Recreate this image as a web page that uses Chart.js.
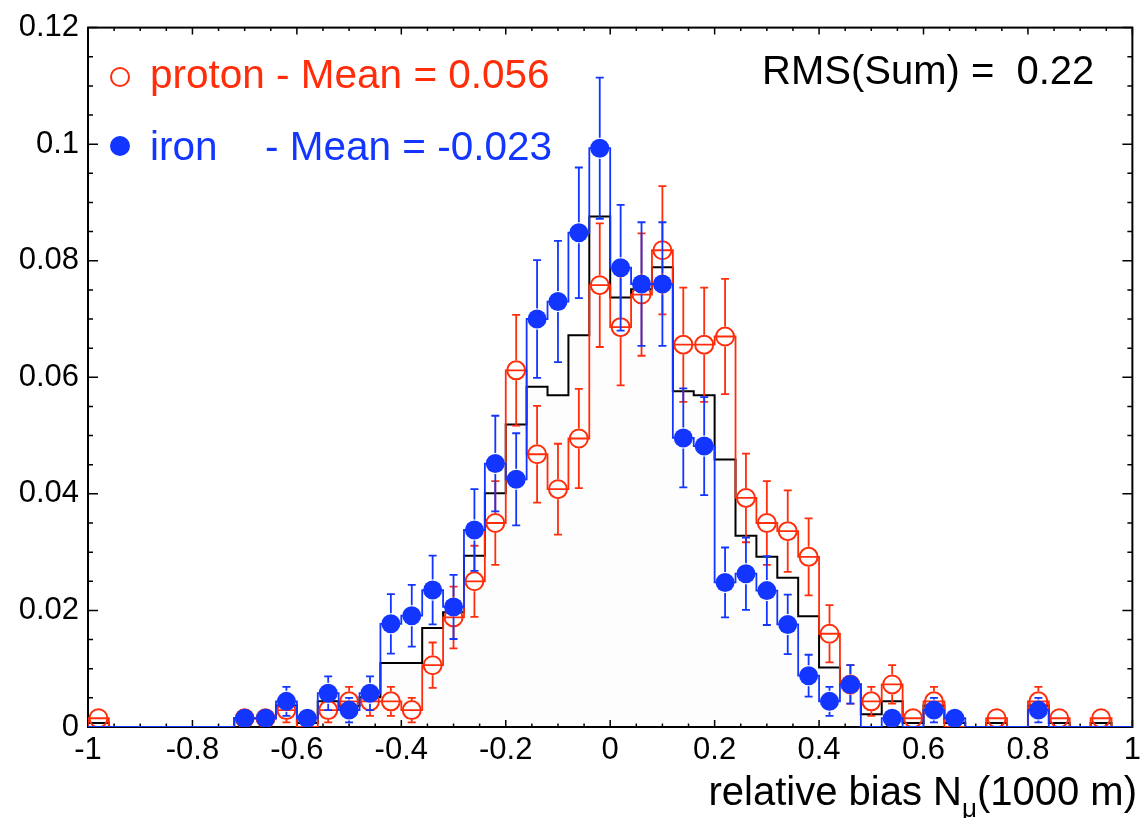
<!DOCTYPE html>
<html>
<head>
<meta charset="utf-8">
<title>relative bias N_mu</title>
<script src="https://cdn.jsdelivr.net/npm/chart.js@4.4.1/dist/chart.umd.min.js"></script>
<style>
  body { margin: 0; background: #fff; }
  #wrap { position: relative; width: 1146px; height: 818px; font-family: "Liberation Sans", Arial, Helvetica, sans-serif; }
  #plot { position: absolute; left: 0; top: 0; }
  .txt { position: absolute; white-space: pre; line-height: 1; font-size: 40px; }
  .leg { font-size: 40.5px; }
  .red { color: #ff2d0a; }
  .blue { color: #1236ff; }
  .mark { position: absolute; border-radius: 50%; box-sizing: border-box; }
</style>
</head>
<body>
<div id="wrap">
  <canvas id="plot" width="1146" height="818"></canvas>
  <span class="mark" style="left:110px; top:67px; width:20px; height:20px; border:2px solid #ff2d0a;"></span>
  <span class="txt leg red" style="left:150px; top:54px;">proton - Mean = 0.056</span>
  <span class="mark" style="left:110px; top:136px; width:20px; height:20px; background:#1236ff;"></span>
  <span class="txt leg blue" style="left:150px; top:126px;">iron</span>
  <span class="txt leg blue" style="left:265px; top:126px;">- Mean = -0.023</span>
  <span class="txt" style="left:762px; top:50px;">RMS(Sum) =  0.22</span>
  <span class="txt" style="right:9px; top:771px;">relative bias N<span style="font-size:26px; position:relative; top:12px;">&mu;</span>(1000 m)</span>
</div>
<script>
// bins of 0.04 from -1 to 1
const binCenters = [-0.98, -0.94, -0.90, -0.86, -0.82, -0.78, -0.74, -0.70, -0.66, -0.62,
                    -0.58, -0.54, -0.50, -0.46, -0.42, -0.38, -0.34, -0.30, -0.26, -0.22,
                    -0.18, -0.14, -0.10, -0.06, -0.02, 0.02, 0.06, 0.10, 0.14, 0.18,
                    0.22, 0.26, 0.30, 0.34, 0.38, 0.42, 0.46, 0.50, 0.54, 0.58,
                    0.62, 0.66, 0.70, 0.74, 0.78, 0.82, 0.86, 0.90, 0.94, 0.98];
const binWidth = 0.04;

const protonVals = [0.0015, 0, 0, 0, 0, 0, 0, 0.0015, 0.0015, 0.0029,
                    0, 0.0029, 0.0044, 0.0044, 0.0044, 0.0029, 0.0106, 0.0188, 0.0250, 0.0350,
                    0.0612, 0.0468, 0.0408, 0.0495, 0.0758, 0.0686, 0.0742, 0.0818, 0.0656, 0.0656,
                    0.0670, 0.0393, 0.0350, 0.0336, 0.0292, 0.0160, 0.0073, 0.0044, 0.0073, 0.0015,
                    0.0044, 0, 0, 0.0015, 0, 0.0044, 0.0015, 0, 0.0015, 0];
const protonErr = [0.0015, 0, 0, 0, 0, 0, 0, 0.0015, 0.0015, 0.0021,
                   0, 0.0021, 0.0025, 0.0025, 0.0025, 0.0021, 0.0039, 0.0053, 0.0061, 0.0072,
                   0.0095, 0.0083, 0.0078, 0.0085, 0.0106, 0.0100, 0.0105, 0.0110, 0.0098, 0.0098,
                   0.0099, 0.0076, 0.0072, 0.0070, 0.0066, 0.0049, 0.0033, 0.0025, 0.0033, 0.0015,
                   0.0025, 0, 0, 0.0015, 0, 0.0025, 0.0015, 0, 0.0015, 0];

const ironVals = [0, 0, 0, 0, 0, 0, 0, 0.0015, 0.0015, 0.0044,
                  0.0015, 0.0058, 0.0029, 0.0058, 0.0177, 0.0191, 0.0235, 0.0206, 0.0338, 0.0452,
                  0.0425, 0.0700, 0.0730, 0.0848, 0.0993, 0.0788, 0.0760, 0.0760, 0.0496, 0.0482,
                  0.0248, 0.0263, 0.0234, 0.0176, 0.0088, 0.0044, 0.0073, 0, 0.0015, 0,
                  0.0029, 0.0015, 0, 0, 0, 0.0029, 0, 0, 0, 0];
const ironErr = [0, 0, 0, 0, 0, 0, 0, 0.0015, 0.0015, 0.0025,
                 0.0015, 0.0029, 0.0021, 0.0029, 0.0051, 0.0053, 0.0059, 0.0055, 0.0070, 0.0082,
                 0.0079, 0.0101, 0.0104, 0.0112, 0.0121, 0.0108, 0.0106, 0.0106, 0.0085, 0.0084,
                 0.0060, 0.0062, 0.0059, 0.0051, 0.0036, 0.0025, 0.0033, 0, 0.0015, 0,
                 0.0021, 0.0015, 0, 0, 0, 0.0021, 0, 0, 0, 0];

const sumVals = [0.0007, 0, 0, 0, 0, 0, 0, 0.0015, 0.0015, 0.0037,
                 0.0007, 0.0044, 0.0036, 0.0051, 0.0110, 0.0110, 0.0170, 0.0197, 0.0294, 0.0401,
                 0.0519, 0.0584, 0.0569, 0.0672, 0.0876, 0.0737, 0.0751, 0.0789, 0.0576, 0.0569,
                 0.0459, 0.0328, 0.0292, 0.0256, 0.0190, 0.0102, 0.0073, 0.0022, 0.0044, 0.0007,
                 0.0037, 0.0007, 0, 0.0007, 0, 0.0037, 0.0007, 0, 0.0007, 0];

const xTicks = [-1, -0.8, -0.6, -0.4, -0.2, 0, 0.2, 0.4, 0.6, 0.8, 1];
const yTicks = [0, 0.02, 0.04, 0.06, 0.08, 0.1, 0.12];

const RED = '#ff2d0a';
const BLUE = '#1236ff';

function stepPoints(vals) {
    let pts = [{ x: binCenters[0] - binWidth / 2, y: 0 }];
    vals.forEach((v, i) => pts.push({ x: binCenters[i] - binWidth / 2, y: v }));
    pts.push({ x: binCenters[binCenters.length - 1] + binWidth / 2, y: 0 });
    return pts;
}

function markerPoints(vals, errs) {
    return binCenters.map((x, i) => ({ x: x, y: vals[i], e: errs[i] })).filter(p => p.y > 0);
}

// ROOT style frame with ticks on all four sides, pointing inwards
const frameTicks = {
    id: 'frameTicks',
    beforeDatasetsDraw(chart) {
        const { ctx, chartArea: a, scales: { x, y } } = chart;
        ctx.save();
        ctx.strokeStyle = '#000';
        ctx.lineWidth = 1.5;
        ctx.beginPath();
        for (let k = 0; k <= 40; k++) {
            const px = x.getPixelForValue(-1 + k * 0.05);
            const len = k % 4 === 0 ? 7 : 3.5;
            ctx.moveTo(px, a.bottom); ctx.lineTo(px, a.bottom - len);
            ctx.moveTo(px, a.top); ctx.lineTo(px, a.top + len);
        }
        for (let k = 0; k <= 24; k++) {
            const py = y.getPixelForValue(k * 0.005);
            const len = k % 4 === 0 ? 10 : 5;
            ctx.moveTo(a.left, py); ctx.lineTo(a.left + len, py);
            ctx.moveTo(a.right, py); ctx.lineTo(a.right - len, py);
        }
        ctx.stroke();
        ctx.lineWidth = 2;
        ctx.strokeRect(a.left, a.top, a.right - a.left, a.bottom - a.top);
        ctx.restore();
    }
};

// vertical error bars with end caps, gapped at the marker
const errorBars = {
    id: 'errorBars',
    beforeDatasetDraw(chart, args) {
        const ds = chart.data.datasets[args.index];
        if (!ds.isMarkers) return;
        const { ctx, scales: { x, y } } = chart;
        const r = ds.pointRadius + 1;
        const cap = 4;
        ctx.save();
        ctx.strokeStyle = ds.borderColor;
        ctx.lineWidth = 1.8;
        ctx.beginPath();
        ds.data.forEach(p => {
            const px = x.getPixelForValue(p.x);
            const py = y.getPixelForValue(p.y);
            const top = y.getPixelForValue(p.y + p.e);
            const bot = y.getPixelForValue(Math.max(0, p.y - p.e));
            if (py - top > r) {
                ctx.moveTo(px, py - r); ctx.lineTo(px, top);
                ctx.moveTo(px - cap, top); ctx.lineTo(px + cap, top);
            }
            if (bot - py > r) {
                ctx.moveTo(px, py + r); ctx.lineTo(px, bot);
                ctx.moveTo(px - cap, bot); ctx.lineTo(px + cap, bot);
            }
        });
        ctx.stroke();
        ctx.restore();
    }
};

const ctx = document.getElementById('plot').getContext('2d');
new Chart(ctx, {
    type: 'scatter',
    data: {
        datasets: [
            {
                data: markerPoints(ironVals, ironErr), isMarkers: true, order: 1,
                pointStyle: 'circle', pointRadius: 9.5, pointHoverRadius: 9.5,
                backgroundColor: BLUE, borderColor: BLUE, borderWidth: 0
            },
            {
                data: stepPoints(ironVals), showLine: true, stepped: true, order: 2,
                borderColor: BLUE, borderWidth: 1.8, pointRadius: 0
            },
            {
                data: markerPoints(protonVals, protonErr), isMarkers: true, order: 3,
                pointStyle: 'circle', pointRadius: 9, pointHoverRadius: 9,
                backgroundColor: 'rgba(0,0,0,0)', borderColor: RED, borderWidth: 2
            },
            {
                data: stepPoints(protonVals), showLine: true, stepped: true, order: 4,
                borderColor: RED, borderWidth: 1.8, pointRadius: 0
            },
            {
                data: stepPoints(sumVals), showLine: true, stepped: true, order: 5,
                borderColor: '#000', borderWidth: 2, pointRadius: 0,
                fill: 'origin', backgroundColor: 'rgba(0,0,0,0.006)'
            }
        ]
    },
    options: {
        responsive: false,
        animation: false,
        devicePixelRatio: 1,
        layout: { padding: { left: 0, right: 7, top: 20, bottom: 0 } },
        plugins: { legend: { display: false }, tooltip: { enabled: false } },
        scales: {
            x: {
                type: 'linear', min: -1, max: 1,
                afterBuildTicks: s => { s.ticks = xTicks.map(v => ({ value: v })); },
                afterFit: s => { s.height = 91; },
                grid: { display: false, drawTicks: false },
                border: { display: false },
                ticks: {
                    autoSkip: false, maxRotation: 0, padding: 5, color: '#000',
                    font: { family: '"Liberation Sans", Arial, sans-serif', size: 31 },
                    callback: v => String(v)
                }
            },
            y: {
                type: 'linear', min: 0, max: 0.12,
                afterBuildTicks: s => { s.ticks = yTicks.map(v => ({ value: v })); },
                afterFit: s => { s.width = 88; },
                grid: { display: false, drawTicks: false },
                border: { display: false },
                ticks: {
                    padding: 9, color: '#000',
                    font: { family: '"Liberation Sans", Arial, sans-serif', size: 31 },
                    callback: v => String(v)
                }
            }
        }
    },
    plugins: [frameTicks, errorBars]
});
</script>
</body>
</html>
